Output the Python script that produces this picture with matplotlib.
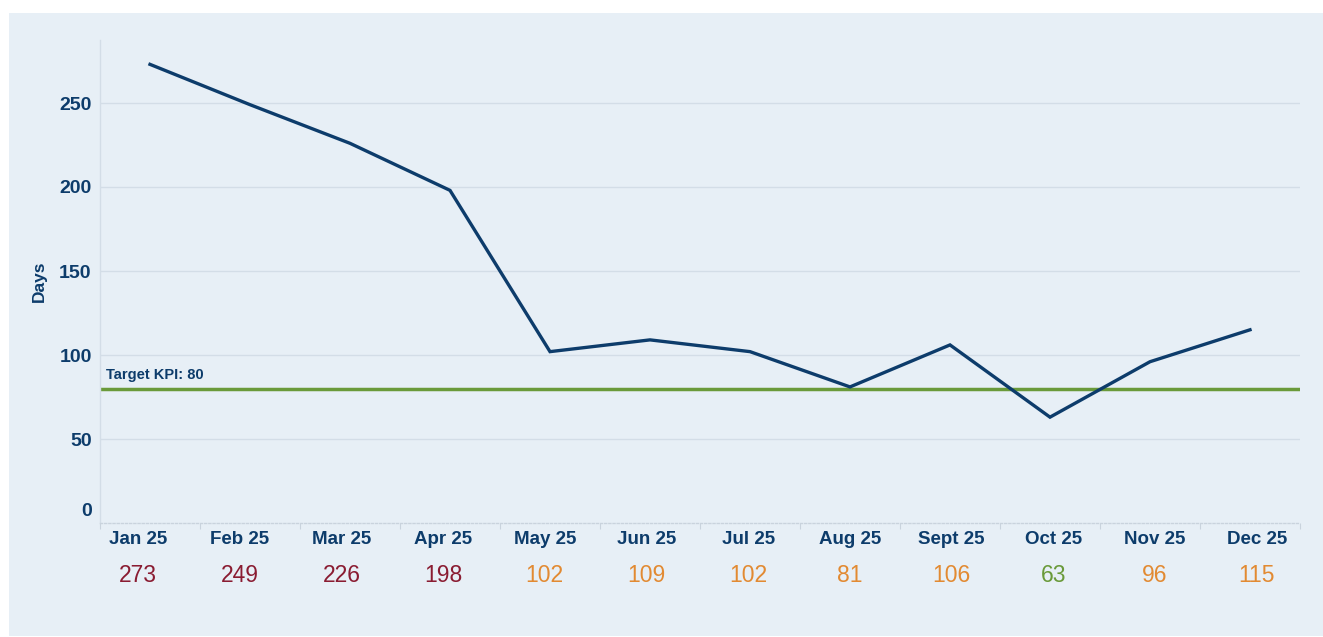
import matplotlib
matplotlib.use("Agg")
import matplotlib.pyplot as plt
from matplotlib.patches import Rectangle
import matplotlib.transforms as mtransforms

months = ["Jan 25", "Feb 25", "Mar 25", "Apr 25", "May 25", "Jun 25",
          "Jul 25", "Aug 25", "Sept 25", "Oct 25", "Nov 25", "Dec 25"]
days = [273, 249, 226, 198, 102, 109, 102, 81, 106, 63, 96, 115]
target = 80
yticks = [0, 50, 100, 150, 200, 250]

NAVY = "#0d3c6b"
GREEN = "#6a9a3a"
RED = "#8a1c32"
ORANGE = "#e28a32"
PANEL = "#e7eff6"
GRID = "#d3dde7"

def value_color(v):
    if v <= target - 10:
        return GREEN
    if v < 150:
        return ORANGE
    return RED

plt.rcParams['font.family'] = ['Liberation Sans', 'DejaVu Sans']

W, H = 1323, 637
fig = plt.figure(figsize=(W / 100, H / 100), dpi=100, facecolor="white")
fig.patches.append(Rectangle((9 / W, 1 / H), (W - 9) / W, (636 - 13) / H,
                             transform=fig.transFigure, facecolor=PANEL,
                             edgecolor="none", zorder=-10))

ax = fig.add_axes([100 / W, (H - 523) / H, 1200 / W, (523 - 40) / H])
ax.set_facecolor("none")
ax.set_zorder(5)
x = list(range(len(months)))
ax.set_xlim(-0.5, len(months) - 0.5)
ax.set_ylim(0, 287.5)

for y in yticks[1:]:
    ax.axhline(y, color=GRID, lw=1, zorder=1)

ax.axhline(target, color=GREEN, lw=2.5, zorder=2)
ax.text(-0.44, target + 4, f"Target KPI: {target}", color=NAVY, fontsize=10.5,
        fontweight="bold", va="bottom", ha="left")

ax.plot(x, days, color=NAVY, lw=2.4, zorder=3, solid_joinstyle="miter")

for s in ["top", "right"]:
    ax.spines[s].set_visible(False)
ax.spines["left"].set_color(GRID)
ax.spines["left"].set_linewidth(1)
ax.spines["bottom"].set_color("#c9d3dd")
ax.spines["bottom"].set_linestyle((0, (1.5, 1.5)))
ax.spines["bottom"].set_linewidth(1)

# label row is laid out slightly wider than the bands in the reference
label_x = [i * 1.017 - 0.12 for i in x]

ax.set_xticks([i - 0.5 for i in range(len(months) + 1)], minor=False)
ax.set_xticklabels([])
ax.tick_params(axis="x", which="major", length=4, color="#c9d3dd")
ax.set_xticks(label_x, minor=True)
ax.set_xticklabels(months, minor=True, fontsize=13.5, fontweight="bold", color=NAVY)
ax.tick_params(axis="x", which="minor", length=0, pad=6)

ax.set_yticks(yticks)
ax.set_yticklabels([""] + [str(t) for t in yticks[1:]], fontsize=14,
                   fontweight="bold", color=NAVY)
ax.tick_params(axis="y", length=0, pad=6)
t0 = ax.text(-8 / 1200, 0, str(yticks[0]), ha="right", va="center",
             fontsize=14, fontweight="bold", color=NAVY)
t0.set_transform(ax.transAxes + mtransforms.ScaledTranslation(0, 11 / 100, fig.dpi_scale_trans))

ax.set_ylabel("Days", fontsize=12.5, fontweight="bold", color=NAVY)
ax.yaxis.set_label_coords(-53 / 1200, 0.5)

trans = mtransforms.blended_transform_factory(ax.transData, ax.transAxes)
for lx, v in zip(label_x, days):
    ax.text(lx, -0.108, str(v), transform=trans, ha="center", va="center",
            fontsize=16.5, color=value_color(v))

fig.savefig("out.png", dpi=100, facecolor="white")
